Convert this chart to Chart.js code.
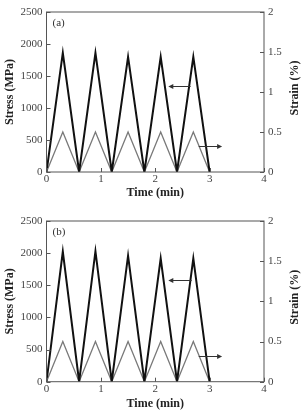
<!DOCTYPE html>
<html>
<head>
<meta charset="utf-8">
<script src="https://cdn.jsdelivr.net/npm/chart.js@4"></script>
<style>
  html, body { margin: 0; padding: 0; background: #fff; }
  .panel { position: relative; width: 306px; height: 205px; }
</style>
</head>
<body>
<div class="panel"><canvas id="chartA"></canvas></div>
<div class="panel"><canvas id="chartB"></canvas></div>
<script>
// time (min) of each turning point
let time = [0, 0.3, 0.6, 0.9, 1.2, 1.5, 1.8, 2.1, 2.4, 2.7, 3.0];

// panel (a)
let stressA = [0, 1860, 0, 1860, 0, 1800, 0, 1800, 0, 1800, 0];
let strainA = [0, 0.5, 0, 0.5, 0, 0.5, 0, 0.5, 0, 0.5, 0];

// panel (b)
let stressB = [0, 2025, 0, 2030, 0, 1960, 0, 1920, 0, 1920, 0];
let strainB = [0, 0.5, 0, 0.5, 0, 0.5, 0, 0.5, 0, 0.5, 0];

// arrows pointing to the axis each curve belongs to (time, stress units)
let arrowsA = [{from: 2.65, to: 2.24, y: 1350}, {from: 2.8, to: 3.23, y: 400}];
let arrowsB = [{from: 2.67, to: 2.24, y: 1580}, {from: 2.8, to: 3.23, y: 400}];

let serif = '"Liberation Serif", "DejaVu Serif", serif';

function pairs(xs, ys) {
    return xs.map((x, i) => ({x: x, y: ys[i]}));
}

let plain = v => String(v);

// frame, inward ticks, right title, panel letter and arrows
let decor = {
    id: 'decor',
    afterDraw(chart, args, opts) {
        let ctx = chart.ctx;
        let a = chart.chartArea;
        let sx = chart.scales.x, sy = chart.scales.y, sy2 = chart.scales.y2;
        ctx.save();
        ctx.strokeStyle = '#555';
        ctx.lineWidth = 1;
        ctx.strokeRect(a.left, a.top, a.right - a.left, a.bottom - a.top);
        ctx.beginPath();
        sx.ticks.forEach(t => {
            let px = Math.round(sx.getPixelForValue(t.value)) + 0.5;
            ctx.moveTo(px, a.bottom); ctx.lineTo(px, a.bottom - 4);
        });
        sy.ticks.forEach(t => {
            let py = Math.round(sy.getPixelForValue(t.value)) + 0.5;
            ctx.moveTo(a.left, py); ctx.lineTo(a.left + 4, py);
        });
        sy2.ticks.forEach(t => {
            let py = Math.round(sy2.getPixelForValue(t.value)) + 0.5;
            ctx.moveTo(a.right, py); ctx.lineTo(a.right - 4, py);
        });
        ctx.stroke();

        // arrows
        ctx.strokeStyle = '#333';
        ctx.fillStyle = '#333';
        opts.arrows.forEach(ar => {
            let x0 = sx.getPixelForValue(ar.from);
            let x1 = sx.getPixelForValue(ar.to);
            let y = Math.round(sy.getPixelForValue(ar.y)) + 0.5;
            let d = x1 > x0 ? 1 : -1;
            ctx.beginPath();
            ctx.moveTo(x0, y); ctx.lineTo(x1 - d * 4, y);
            ctx.stroke();
            ctx.beginPath();
            ctx.moveTo(x1, y);
            ctx.lineTo(x1 - d * 5, y - 2.5);
            ctx.lineTo(x1 - d * 5, y + 2.5);
            ctx.closePath();
            ctx.fill();
        });

        // panel letter
        ctx.fillStyle = '#333';
        ctx.font = '11px ' + serif;
        ctx.textAlign = 'left';
        ctx.textBaseline = 'middle';
        ctx.fillText(opts.letter, a.left + 6, a.top + 11);

        // right axis title, reading bottom to top
        ctx.font = 'bold 12px ' + serif;
        ctx.fillStyle = '#222';
        ctx.textAlign = 'center';
        ctx.translate(295, (a.top + a.bottom) / 2 - 4);
        ctx.rotate(-Math.PI / 2);
        ctx.fillText('Strain (%)', 0, 0);
        ctx.restore();
    }
};

function makeChart(id, stress, strain, letter, arrows, topPad, xHeight, titlePad) {
    return new Chart(document.getElementById(id).getContext('2d'), {
        type: 'line',
        data: {
            datasets: [{
                label: 'Stress',
                data: pairs(time, stress),
                yAxisID: 'y',
                borderColor: '#111',
                borderWidth: 2,
                pointRadius: 0,
                tension: 0
            }, {
                label: 'Strain',
                data: pairs(time, strain),
                yAxisID: 'y2',
                borderColor: '#7a7a7a',
                borderWidth: 1.3,
                pointRadius: 0,
                tension: 0
            }]
        },
        options: {
            responsive: true,
            maintainAspectRatio: false,
            animation: false,
            layout: {padding: {top: topPad, left: 0, right: 0, bottom: 0}},
            plugins: {
                legend: {display: false},
                tooltip: {enabled: false},
                decor: {letter: letter, arrows: arrows}
            },
            scales: {
                x: {
                    type: 'linear',
                    min: 0, max: 4,
                    grid: {display: false, drawTicks: false},
                    border: {display: false},
                    ticks: {stepSize: 1, padding: 1, color: '#444', callback: plain,
                        font: {family: serif, size: 11}},
                    title: {display: true, text: 'Time (min)', color: '#222',
                        font: {family: serif, size: 12, weight: 'bold', lineHeight: 1},
                        padding: {top: 0, bottom: titlePad}},
                    afterFit: s => { s.height = xHeight; }
                },
                y: {
                    position: 'left',
                    min: 0, max: 2500,
                    grid: {display: false, drawTicks: false},
                    border: {display: false},
                    ticks: {stepSize: 500, padding: 4, color: '#444', callback: plain,
                        font: {family: serif, size: 11}},
                    title: {display: true, text: 'Stress (MPa)', color: '#222',
                        font: {family: serif, size: 12, weight: 'bold', lineHeight: 1},
                        padding: {top: 4, bottom: 0}},
                    afterFit: s => { s.width = 46.5; }
                },
                y2: {
                    position: 'right',
                    min: 0, max: 2,
                    grid: {display: false, drawTicks: false},
                    border: {display: false},
                    ticks: {stepSize: 0.5, padding: 4, color: '#444', callback: plain,
                        font: {family: serif, size: 11}},
                    afterFit: s => { s.width = 42; }
                }
            }
        },
        plugins: [decor]
    });
}

makeChart('chartA', stressA, strainA, '(a)', arrowsA, 12, 33, 6);
makeChart('chartB', stressB, strainB, '(b)', arrowsB, 16, 28.3, 0);
</script>
</body>
</html>
